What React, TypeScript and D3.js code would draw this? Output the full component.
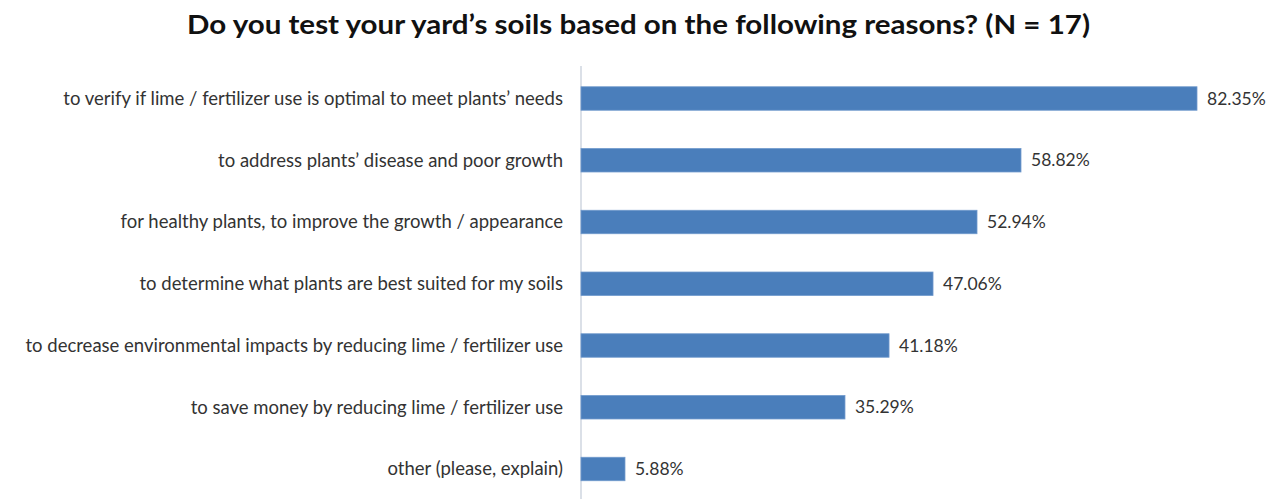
import React from "react";
import * as d3 from "d3";

const title = "Do you test your yard\u2019s soils based on the following reasons? (N = 17)";
const categories = [
  "to verify if lime / fertilizer use is optimal to meet plants\u2019 needs",
  "to address plants\u2019 disease and poor growth",
  "for healthy plants, to improve the growth / appearance",
  "to determine what plants are best suited for my soils",
  "to decrease environmental impacts by reducing lime / fertilizer use",
  "to save money by reducing lime / fertilizer use",
  "other (please, explain)",
];
const values = [82.35, 58.82, 52.94, 47.06, 41.18, 35.29, 5.88];
const valueLabels = ["82.35%", "58.82%", "52.94%", "47.06%", "41.18%", "35.29%", "5.88%"];

const W = 1270;
const H = 499;
const plotLeft = 581;
const font = "Lato, 'Open Sans', sans-serif";

export default function App() {
  const x = d3.scaleLinear().domain([0, 82.35]).range([plotLeft, 1197]);
  const step = 61.75;
  const y = d3
    .scaleBand<string>()
    .domain(categories)
    .range([98.5 - step / 2, 98.5 - step / 2 + step * categories.length])
    .paddingInner(0.62)
    .paddingOuter(0.31);
  const bh = y.bandwidth();
  return (
    <svg width={W} height={H} style={{ position: "absolute", left: 0, top: 0, background: "#fff" }}>
      <rect x={0} y={0} width={W} height={H} fill="#fff" />
      <text
        x={638.5}
        y={34}
        textAnchor="middle"
        fontFamily={font}
        fontWeight="bold"
        fontSize={27}
        fill="#111"
        textLength={903}
        lengthAdjust="spacingAndGlyphs"
      >
        {title}
      </text>
      <line x1={plotLeft} x2={plotLeft} y1={66} y2={H} stroke="#c3cbd8" strokeWidth={1.2} />
      {categories.map((c, i) => {
        const yy = y(c)!;
        return (
          <g key={c}>
            <rect x={x(0)} y={yy} width={x(values[i]) - x(0)} height={bh} fill="#4a7ebb" stroke="#7099cc" strokeWidth={0.8} />
            <text
              x={563}
              y={yy + bh / 2}
              dy="0.35em"
              textAnchor="end"
              fontFamily={font}
              fontSize={18.5}
              fill="#333"
            >
              {c}
            </text>
            <text
              x={x(values[i]) + 10}
              y={yy + bh / 2}
              dy="0.35em"
              fontFamily={font}
              fontSize={17.5}
              fill="#333"
            >
              {valueLabels[i]}
            </text>
          </g>
        );
      })}
    </svg>
  );
}
